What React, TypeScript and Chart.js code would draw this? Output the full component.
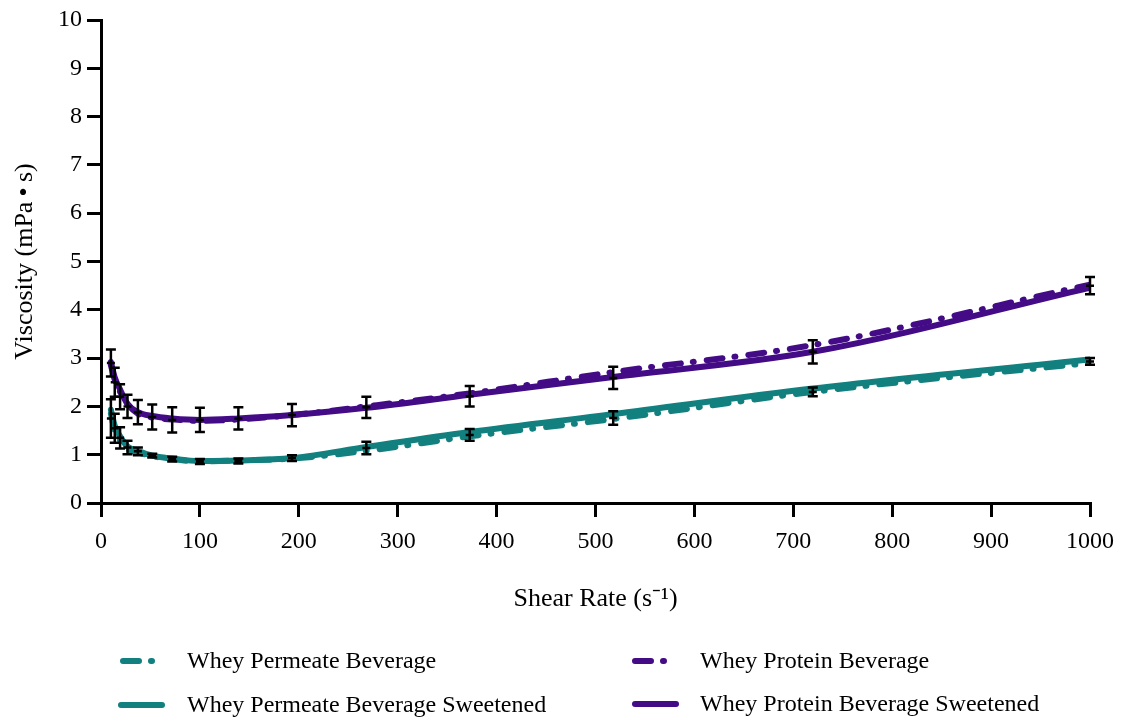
import { useEffect, useRef } from 'react';
import { Chart, registerables } from 'chart.js';
Chart.register(...registerables);

const shearRate = [10, 13.9, 19.3, 26.8, 37.3, 51.8, 72, 100, 138.9, 193.1, 268.3, 372.8, 517.9, 719.7, 1000];

const permeate = [1.85, 1.5, 1.3, 1.12, 1.05, 0.97, 0.91, 0.86, 0.88, 0.92, 1.08, 1.38, 1.74, 2.3, 2.9];
const permeateSweet = [1.93, 1.6, 1.38, 1.17, 1.08, 0.98, 0.92, 0.87, 0.88, 0.93, 1.16, 1.47, 1.84, 2.37, 2.97];
const protein = [2.85, 2.55, 2.3, 2.05, 1.85, 1.77, 1.73, 1.7, 1.73, 1.82, 2.0, 2.27, 2.71, 3.27, 4.52];
const proteinSweet = [2.92, 2.6, 2.35, 2.05, 1.88, 1.8, 1.75, 1.72, 1.75, 1.82, 1.97, 2.24, 2.61, 3.13, 4.46];

const permeateErrMean = [1.75, 1.55, 1.35, 1.15, 1.07, 0.98, 0.91, 0.86, 0.87, 0.93, 1.14, 1.41, 1.76, 2.3, 2.93];
const permeateErrSd = [0.4, 0.3, 0.22, 0.14, 0.08, 0.04, 0.05, 0.05, 0.05, 0.06, 0.13, 0.12, 0.14, 0.09, 0.07];
const proteinErrMean = [2.9, 2.5, 2.2, 2.0, 1.88, 1.78, 1.72, 1.72, 1.75, 1.82, 1.98, 2.21, 2.59, 3.13, 4.5];
const proteinErrSd = [0.28, 0.3, 0.26, 0.24, 0.25, 0.26, 0.26, 0.25, 0.23, 0.23, 0.22, 0.21, 0.23, 0.24, 0.18];

const seriesLabels = ['Whey Permeate Beverage', 'Whey Permeate Beverage Sweetened', 'Whey Protein Beverage', 'Whey Protein Beverage Sweetened'];

const TEAL = '#12807e';
const PURPLE = '#430b85';
const DASHDOT = [16, 12, 1, 13];
const FONT = '"Liberation Serif", serif';

export default function App() {
  const ref = useRef<HTMLCanvasElement>(null);
  useEffect(() => {
    document.body.style.margin = '0';
    const toPts = (arr: number[]) => shearRate.map((x, i) => ({ x, y: arr[i] }));

    const errorBars = {
      id: 'errorBars',
      afterDatasetsDraw(chart: any) {
        const { ctx, scales } = chart;
        const xs = scales.x, ys = scales.y;
        ctx.save();
        ctx.strokeStyle = '#000';
        ctx.lineWidth = 2.5;
        ctx.lineCap = 'butt';
        ctx.setLineDash([]);
        const groups = [
          [permeateErrMean, permeateErrSd],
          [proteinErrMean, proteinErrSd],
        ];
        groups.forEach(([m, s]) => {
          shearRate.forEach((xv, i) => {
            const x = xs.getPixelForValue(xv);
            const yt = ys.getPixelForValue(m[i] + s[i]);
            const yb = ys.getPixelForValue(m[i] - s[i]);
            const yc = ys.getPixelForValue(m[i]);
            ctx.beginPath();
            ctx.moveTo(x, yt); ctx.lineTo(x, yb);
            ctx.moveTo(x - 5, yt); ctx.lineTo(x + 5, yt);
            ctx.moveTo(x - 5, yb); ctx.lineTo(x + 5, yb);
            ctx.moveTo(x - 4, yc); ctx.lineTo(x + 4, yc);
            ctx.stroke();
          });
        });
        ctx.restore();
      },
    };

    const legendPlugin = {
      id: 'customLegend',
      afterDraw(chart: any) {
        const { ctx } = chart;
        const items = [
          { label: seriesLabels[0], color: TEAL, dash: true, x: 123, tx: 187, y: 661 },
          { label: seriesLabels[1], color: TEAL, dash: false, x: 121, tx: 187, y: 705 },
          { label: seriesLabels[2], color: PURPLE, dash: true, x: 635, tx: 700, y: 661 },
          { label: seriesLabels[3], color: PURPLE, dash: false, x: 635, tx: 700, y: 704 },
        ];
        ctx.save();
        items.forEach((it) => {
          ctx.strokeStyle = it.color;
          ctx.lineWidth = 6;
          ctx.lineCap = 'round';
          ctx.setLineDash(it.dash ? DASHDOT : []);
          ctx.beginPath();
          ctx.moveTo(it.x, it.y);
          ctx.lineTo(it.dash ? it.x + 31 : it.x + 41, it.y);
          ctx.stroke();
          ctx.setLineDash([]);
          ctx.fillStyle = '#000';
          ctx.font = `24px ${FONT}`;
          ctx.textBaseline = 'middle';
          ctx.textAlign = 'left';
          ctx.fillText(it.label, it.tx, it.y + 1);
        });
        ctx.restore();
      },
    };

    const common = {
      pointRadius: 0, borderWidth: 6, tension: 0.4, cubicInterpolationMode: 'monotone' as const,
      fill: false, borderCapStyle: 'round' as const, borderJoinStyle: 'round' as const,
    };
    const chart = new Chart(ref.current!, {
      type: 'line',
      data: {
        datasets: [
          { ...common, label: seriesLabels[1], data: toPts(permeateSweet), borderColor: TEAL },
          { ...common, label: seriesLabels[0], data: toPts(permeate), borderColor: TEAL, borderDash: DASHDOT },
          { ...common, label: seriesLabels[3], data: toPts(proteinSweet), borderColor: PURPLE },
          { ...common, label: seriesLabels[2], data: toPts(protein), borderColor: PURPLE, borderDash: DASHDOT },
        ],
      },
      options: {
        responsive: false,
        animation: false,
        layout: { padding: { left: 10, right: 31, top: 20, bottom: 100 } },
        plugins: { legend: { display: false }, tooltip: { enabled: false } },
        scales: {
          x: {
            type: 'linear', min: 0, max: 1000,
            ticks: { stepSize: 100, color: '#000', font: { family: FONT, size: 24 }, padding: 10, maxRotation: 0, callback: (v: any) => String(v) },
            grid: { drawOnChartArea: false, color: '#000', lineWidth: 3, tickLength: 14, tickWidth: 3 },
            border: { color: '#000', width: 3 },
            title: { display: true, text: 'Shear Rate (s\u207B\u00B9)', color: '#000', font: { family: FONT, size: 26 }, padding: { top: 10, bottom: 5 } },
            afterFit: (s: any) => { s.height = 117; s.paddingLeft = 0; s.paddingRight = 0; },
          },
          y: {
            min: 0, max: 10,
            ticks: { stepSize: 1, color: '#000', font: { family: FONT, size: 24 }, padding: 5 },
            grid: { drawOnChartArea: false, color: '#000', lineWidth: 3, tickLength: 14, tickWidth: 3 },
            border: { color: '#000', width: 3 },
            title: { display: true, text: 'Viscosity (mPa\u2009\u2022\u2009s)', color: '#000', font: { family: FONT, size: 26 }, padding: { top: 0, bottom: 4 } },
            afterFit: (s: any) => { s.width = 91; },
          },
        },
      },
      plugins: [errorBars, legendPlugin],
    });
    return () => chart.destroy();
  }, []);
  return (
    <div style={{ width: 1121, height: 720, background: '#fff' }}>
      <canvas ref={ref} width={1121} height={720} />
    </div>
  );
}
